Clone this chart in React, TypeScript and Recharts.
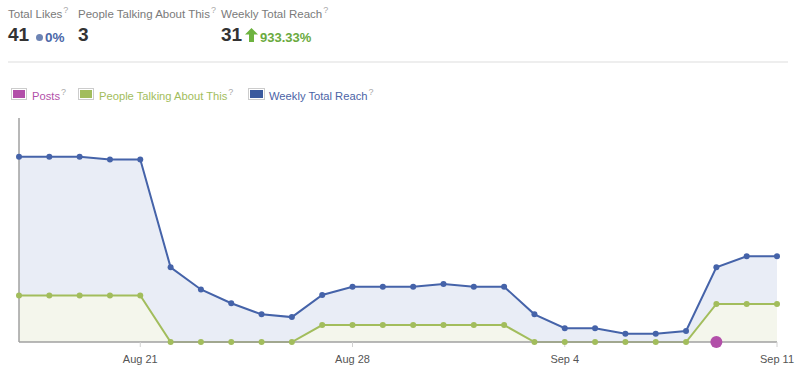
import React from "react";
import { ComposedChart, Area, Line, XAxis, YAxis } from "recharts";

const days = [
  "Aug 17", "Aug 18", "Aug 19", "Aug 20", "Aug 21", "Aug 22", "Aug 23", "Aug 24", "Aug 25",
  "Aug 26", "Aug 27", "Aug 28", "Aug 29", "Aug 30", "Aug 31", "Sep 1", "Sep 2", "Sep 3",
  "Sep 4", "Sep 5", "Sep 6", "Sep 7", "Sep 8", "Sep 9", "Sep 10", "Sep 11",
];
const weeklyReach = [67, 67, 67, 66, 66, 27, 19, 14, 10, 9, 17, 20, 20, 20, 21, 20, 20, 10, 5, 5, 3, 3, 4, 27, 31, 31];
const peopleTalking = [11, 11, 11, 11, 11, 0, 0, 0, 0, 0, 4, 4, 4, 4, 4, 4, 4, 0, 0, 0, 0, 0, 0, 9, 9, 9];
const posts: (number | null)[] = [null, null, null, null, null, null, null, null, null, null, null, null, null, null, null, null, null, null, null, null, null, null, null, 1, null, null];
const tickLabels = ["Aug 21", "Aug 28", "Sep 4", "Sep 11"];

const data = days.map((d, i) => ({
  day: d,
  reach: weeklyReach[i],
  talking: peopleTalking[i],
  posts: posts[i],
}));

const BLUE = "#4563a9";
const BLUE_FILL = "#e9edf6";
const GREEN = "#a2bd5c";
const GREEN_FILL = "#f4f6ec";
const PINK = "#b24fa9";
const FONT = "'Liberation Sans', Arial, sans-serif";

const Q = () => (
  <span style={{ fontSize: 9, color: "#aaa", verticalAlign: 5, marginLeft: 1 }}>?</span>
);

const abs = (left: number, top: number, extra: React.CSSProperties = {}): React.CSSProperties => ({
  position: "absolute",
  left,
  top,
  whiteSpace: "nowrap",
  ...extra,
});

export default function App() {
  return (
    <div style={{ position: "absolute", left: 0, top: 0, width: 800, height: 374, background: "#fff", fontFamily: FONT, overflow: "hidden" }}>
      {/* Header stats */}
      <div style={abs(8, 5, { fontSize: 11.5, color: "#7a7a7a" })}>Total Likes<Q /></div>
      <div style={abs(78, 5, { fontSize: 11.5, color: "#7a7a7a" })}>People Talking About This<Q /></div>
      <div style={abs(221, 5, { fontSize: 11.5, color: "#7a7a7a" })}>Weekly Total Reach<Q /></div>

      <div style={abs(8, 24, { fontSize: 19, fontWeight: "bold", color: "#333" })}>41</div>
      <div style={abs(36, 34, { width: 7, height: 7, borderRadius: 4, background: "#6d84b4" })} />
      <div style={abs(45, 30, { fontSize: 13.5, fontWeight: "bold", color: "#4b67a8" })}>0%</div>
      <div style={abs(78, 24, { fontSize: 19, fontWeight: "bold", color: "#333" })}>3</div>
      <div style={abs(221, 24, { fontSize: 19, fontWeight: "bold", color: "#333" })}>31</div>
      <svg style={abs(245, 28)} width={13} height={14} viewBox="0 0 13 14">
        <path d="M6.5 0 L13 6.5 L9 6.5 L9 14 L4 14 L4 6.5 L0 6.5 Z" fill="#6db33f" />
      </svg>
      <div style={abs(260, 30, { fontSize: 13, fontWeight: "bold", color: "#6aaa3e" })}>933.33%</div>

      <div style={abs(8, 61, { width: 780, height: 2, background: "#eeeeee" })} />

      {/* Legend */}
      <div style={abs(11, 88, { width: 14, height: 10, border: "1px solid #ccc", background: PINK, boxShadow: "inset 0 0 0 1px #fff" })} />
      <div style={abs(32, 87, { fontSize: 11.2, color: PINK })}>Posts<Q /></div>
      <div style={abs(78, 88, { width: 14, height: 10, border: "1px solid #ccc", background: GREEN, boxShadow: "inset 0 0 0 1px #fff" })} />
      <div style={abs(99, 87, { fontSize: 11.2, color: GREEN })}>People Talking About This<Q /></div>
      <div style={abs(248, 88, { width: 15, height: 10, border: "1px solid #ccc", background: "#3b5a9e", boxShadow: "inset 0 0 0 1px #fff" })} />
      <div style={abs(269, 87, { fontSize: 11.2, color: "#4b63a6" })}>Weekly Total Reach<Q /></div>

      <div style={abs(0, 0)}>
        <ComposedChart
          width={800}
          height={374}
          data={data}
          margin={{ top: 118, right: 23, bottom: 2, left: 18 }}
        >
          <XAxis
            dataKey="day"
            ticks={tickLabels}
            interval={0}
            height={30}
            padding={{ left: 0, right: 0 }}
            axisLine={{ stroke: "#a0a0a0", strokeWidth: 1.5 }}
            tickLine={{ stroke: "#d0d0d0" }}
            tickSize={5}
            tickMargin={8}
            tick={{ fontSize: 11, fill: "#555", fontFamily: FONT }}
          />
          <YAxis
            yAxisId="reach"
            domain={[0, 81]}
            width={1}
            tick={false}
            tickLine={false}
            axisLine={{ stroke: "#a0a0a0", strokeWidth: 1.5 }}
          />
          <YAxis yAxisId="talking" domain={[0, 53]} hide />
          <Area
            yAxisId="reach"
            type="linear"
            dataKey="reach"
            stroke={BLUE}
            strokeWidth={2}
            fill={BLUE_FILL}
            fillOpacity={1}
            dot={{ r: 3, fill: BLUE, stroke: BLUE, strokeWidth: 0 }}
            activeDot={false}
            isAnimationActive={false}
          />
          <Area
            yAxisId="talking"
            type="linear"
            dataKey="talking"
            stroke={GREEN}
            strokeWidth={2}
            fill={GREEN_FILL}
            fillOpacity={1}
            dot={{ r: 3, fill: GREEN, stroke: GREEN, strokeWidth: 0 }}
            activeDot={false}
            isAnimationActive={false}
          />
          <Line
            yAxisId="reach"
            dataKey={(d: { posts: number | null }) => (d.posts != null ? 0 : null)}
            stroke="none"
            dot={{ r: 6, fill: PINK, stroke: PINK, strokeWidth: 0 }}
            activeDot={false}
            isAnimationActive={false}
          />
        </ComposedChart>
      </div>
    </div>
  );
}
